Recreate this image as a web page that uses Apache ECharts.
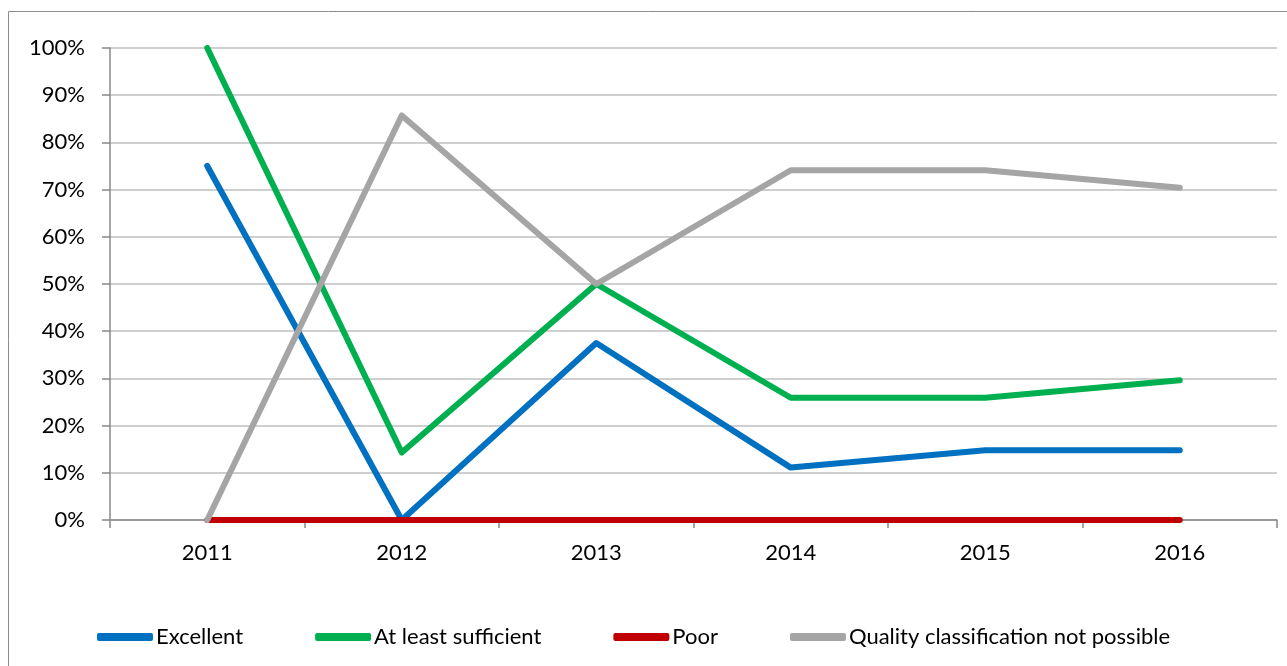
<!DOCTYPE html>
<html>
<head>
<meta charset="utf-8">
<script src="https://cdn.jsdelivr.net/npm/echarts@6/dist/echarts.min.js"></script>
<style>
html,body{margin:0;padding:0;background:#fff;}
#chart{width:1287px;height:666px;}
</style>
</head>
<body>
<div id="chart"></div>
<script>
const categories = ['2011', '2012', '2013', '2014', '2015', '2016'];
const excellent = [75, 0, 37.5, 11.1, 14.8, 14.8];
const atLeastSufficient = [100, 14.3, 50, 25.9, 25.9, 29.6];
const poor = [0, 0, 0, 0, 0, 0];
const notPossible = [0, 85.7, 50, 74.1, 74.1, 70.4];
const seriesNames = ['Excellent', 'At least sufficient', 'Poor', 'Quality classification not possible'];
const seriesColors = ['#0070C0', '#00B050', '#C00000', '#A5A5A5'];
const seriesData = [excellent, atLeastSufficient, poor, notPossible];

const font = 'Lato, "Open Sans", sans-serif';
const chart = echarts.init(document.getElementById('chart'));
chart.setOption({
  animation: false,
  backgroundColor: '#fff',
  textStyle: { fontFamily: font },
  graphic: [{
    type: 'rect', silent: true, z: -1,
    shape: { x: 8.5, y: 11.5, width: 1300, height: 700 },
    style: { fill: 'none', stroke: '#8C8C8C', lineWidth: 1 }
  }],
  grid: { left: 110, right: 10, top: 48, bottom: 146, containLabel: false },
  legend: {
    bottom: 13,
    left: 92,
    icon: 'roundRect',
    itemWidth: 56,
    itemHeight: 8,
    itemGap: 72,
    textStyle: { fontSize: 22, color: '#000', fontFamily: font, padding: [0, 0, 0, -2] },
    data: seriesNames
  },
  xAxis: {
    type: 'category',
    data: categories,
    boundaryGap: true,
    axisLine: { lineStyle: { color: '#888', width: 1.5 } },
    axisTick: { show: true, length: 8, lineStyle: { color: '#888', width: 1.5 } },
    axisLabel: { fontSize: 22, color: '#000', margin: 22 }
  },
  yAxis: {
    type: 'value',
    min: 0, max: 100, interval: 10,
    axisLine: { show: true, lineStyle: { color: '#888', width: 1.5 } },
    axisTick: { show: true, length: 8, lineStyle: { color: '#888', width: 1.5 } },
    axisLabel: { fontSize: 22, color: '#000', margin: 25, formatter: '{value}%' },
    splitLine: { lineStyle: { color: '#BFBFBF', width: 1.5 } }
  },
  series: seriesNames.map((n, i) => ({
    name: n,
    type: 'line',
    data: seriesData[i],
    showSymbol: false,
    symbol: 'none',
    color: seriesColors[i],
    lineStyle: { width: 6, color: seriesColors[i], cap: 'round', join: 'round' }
  }))
});
</script>
</body>
</html>
